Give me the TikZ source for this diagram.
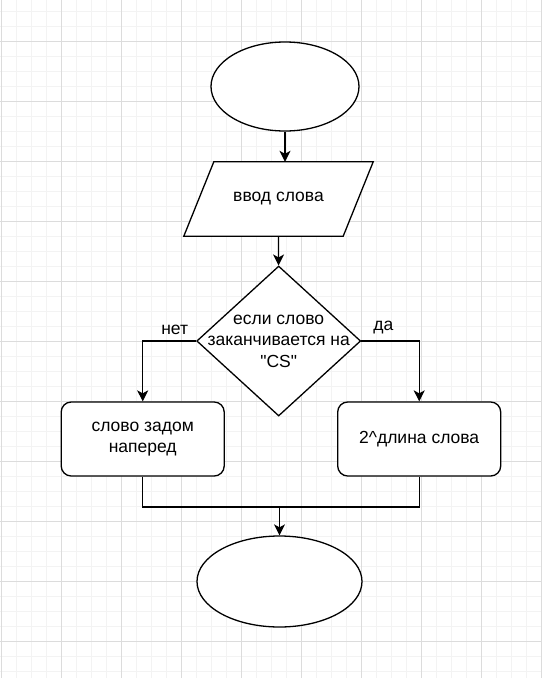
\documentclass[tikz,border=0pt]{standalone}
\usepackage{fontspec}
\setmainfont{Liberation Sans}
\usetikzlibrary{arrows.meta,positioning,shapes.geometric}
\definecolor{gridminor}{RGB}{243,243,243}
\definecolor{gridmajor}{RGB}{220,220,220}

\begin{document}
\begin{tikzpicture}[x=1pt,y=-1pt,
    every node/.style={font=\fontsize{17.5}{21.5}\selectfont},
    base/.style={draw,line width=1.3pt,fill=white,inner sep=0pt},
    term/.style={base,ellipse},
    io/.style={rectangle,inner sep=0pt,minimum width=189pt,minimum height=74pt},
    decide/.style={base,diamond,minimum width=164pt,minimum height=150pt},
    proc/.style={base,rectangle,rounded corners=10pt,minimum width=163pt,
      minimum height=74pt,align=center},
    flow/.style={line width=1.3pt,-{Stealth[length=11pt,width=11pt,inset=3pt]}},
    link/.style={line width=1.3pt}]
  \useasboundingbox (0,0) rectangle (542,678);
  \fill[white] (0,0) rectangle (542,678);
  % grid
  \foreach \x in {1,16,...,541} \draw[gridminor,line width=1pt] (\x,0) -- (\x,678);
  \foreach \y in {11,26,...,671} \draw[gridminor,line width=1pt] (0,\y) -- (542,\y);
  \foreach \x in {1,61,...,541} \draw[gridmajor,line width=1pt] (\x,0) -- (\x,678);
  \foreach \y in {41,101,...,641} \draw[gridmajor,line width=1pt] (0,\y) -- (542,\y);

  \node[term,minimum width=148pt,minimum height=89pt] (start) at (285,86.5) {};
  \node[io] (inp) at (278.5,199) {};
  \draw[base,line join=miter] ([xshift=30pt]inp.north west) -- (inp.north east)
    -- ([xshift=-30pt]inp.south east) -- (inp.south west) -- cycle;
  \node at (inp) {ввод слова};
  \node[decide,label={[align=center]center:если слово\\заканчивается на\\\textquotedbl{}CS\textquotedbl}] (cond) at (278.7,341) {};
  \node[proc] (noword) at (142.7,439) {слово задом\\наперед};
  \node[proc] (yespow) at (419.2,439) {2\textasciicircum{}длина слова};
  \node[term,minimum width=165pt,minimum height=91pt] (stop) at (279.5,581.5) {};
  \coordinate (merge) at (279.5,507);

  \draw[flow] (start.south) -- (start.south |- inp.north);
  \draw[flow] (inp) -- (cond);
  \draw[flow] (cond.west) -| node[pos=0.2,above=6pt,inner sep=0pt] {нет} (noword.north);
  \draw[flow] (cond.east) -| node[pos=0.19,above=6pt,inner sep=0pt] {да} (yespow.north);
  \draw[link] (noword.south) |- (merge) -| (yespow.south);
  \draw[flow] (merge) -- (stop.north);
\end{tikzpicture}
\end{document}
